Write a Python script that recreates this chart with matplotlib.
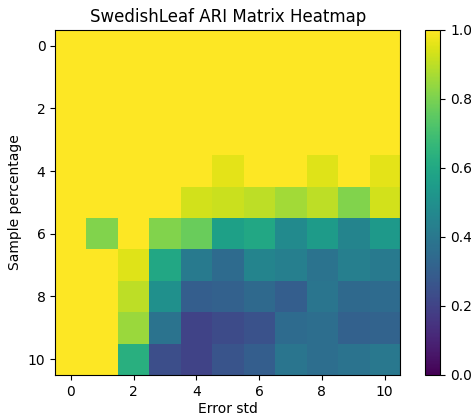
import matplotlib
matplotlib.use("Agg")
import matplotlib.pyplot as plt
import numpy as np

# rows = sample percentage index, cols = error std index
row0 = [1.0] * 11
row1 = [1.0] * 11
row2 = [1.0] * 11
row3 = [1.0] * 11
row4 = [1.0, 1.0, 1.0, 1.0, 1.0, 0.96, 1.0, 1.0, 0.95, 1.0, 0.96]
row5 = [1.0, 1.0, 1.0, 1.0, 0.93, 0.92, 0.90, 0.86, 0.90, 0.81, 0.93]
row6 = [1.0, 0.81, 1.0, 0.81, 0.77, 0.57, 0.60, 0.48, 0.55, 0.45, 0.54]
row7 = [1.0, 1.0, 0.95, 0.60, 0.41, 0.35, 0.45, 0.43, 0.38, 0.43, 0.41]
row8 = [1.0, 1.0, 0.90, 0.50, 0.30, 0.31, 0.34, 0.30, 0.39, 0.34, 0.35]
row9 = [1.0, 1.0, 0.85, 0.38, 0.20, 0.23, 0.25, 0.35, 0.36, 0.31, 0.32]
row10 = [1.0, 1.0, 0.63, 0.24, 0.20, 0.26, 0.30, 0.39, 0.36, 0.38, 0.40]

ari = np.array([row0, row1, row2, row3, row4, row5, row6, row7, row8, row9, row10])

fig = plt.figure(figsize=(4.71, 4.16), dpi=100)
ax = fig.add_axes([0.117, 0.099, 0.733, 0.829])
im = ax.imshow(ari, cmap="viridis", vmin=0, vmax=1, aspect="auto")
ax.set_title("SwedishLeaf ARI Matrix Heatmap")
ax.set_xlabel("Error std", labelpad=2.5)
ax.set_ylabel("Sample percentage")

cax = fig.add_axes([0.902, 0.099, 0.033, 0.829])
fig.colorbar(im, cax=cax)

fig.savefig("out.png", dpi=100)
